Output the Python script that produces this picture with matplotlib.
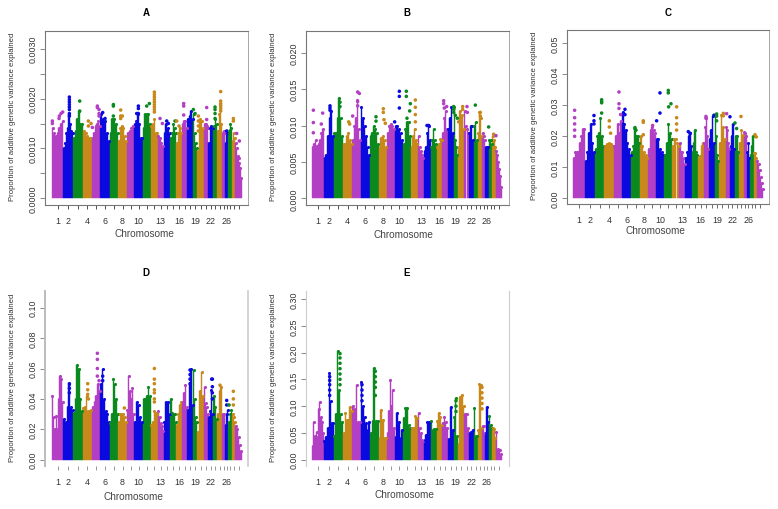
import matplotlib
matplotlib.use("Agg")
import matplotlib.pyplot as plt
import numpy as np

plt.rcParams['font.family'] = ['Liberation Sans', 'DejaVu Sans']

W, H = 778, 510

# chromosome lengths (same x axis for all panels)
chr_len = [35, 30, 28, 28, 25, 28, 26, 25, 23, 25, 24, 21, 18, 20, 18, 17, 16, 18, 12, 20,
           13, 15, 12, 14, 9, 10, 11, 10, 19]
chr_colors = ['#b23fc4', '#0a0ae0', '#0a8a1e', '#c8881a']
tick_names = {1: '1', 2: '2', 4: '4', 6: '6', 8: '8', 10: '10', 13: '13', 16: '16', 19: '19', 22: '22', 26: '26'}

# envelope of each chromosome, one list per chromosome (thousandths)
a_env = [[1.4, 1.3, 1.25, 1.3, 1.4, 1.5, 1.55], [1.0, 1.1, 1.3, 1.4, 1.7, 1.5, 1.35, 1.3], [1.2, 1.35, 1.6, 1.75, 1.5, 1.5],
         [1.35, 1.3, 1.25, 1.2, 1.2], [1.2, 1.3, 1.45, 1.5, 1.55, 1.45], [1.7, 1.6, 1.55, 1.3, 1.15], [1.3, 1.6, 1.6, 1.5, 1.3],
         [1.15, 1.4, 1.45, 1.4, 1.25, 1.15], [1.3, 1.35, 1.4, 1.45], [1.5, 1.55, 1.7, 1.5, 1.2, 1.2], [1.4, 1.7, 1.7, 1.7, 1.5],
         [1.45, 1.5, 1.6, 1.3, 1.3], [1.25, 1.2, 1.1, 1.05], [1.3, 1.5, 1.4, 1.3], [1.2, 1.3, 1.5, 1.4, 1.3], [1.1, 1.3, 1.4, 1.3],
         [1.5, 1.55, 1.55, 1.4], [1.6, 1.65, 1.75, 1.6], [1.7, 1.3, 1.1, 1.0], [0.95, 1.6, 1.55, 1.4], [1.5, 1.5, 1.45, 1.4],
         [1.1, 1.4, 1.45, 1.4], [1.45, 1.6, 1.5], [1.35, 1.7, 1.9, 1.5], [1.3, 1.35, 1.3], [1.1, 1.3, 1.3], [1.3, 1.5, 1.4],
         [1.15, 1.3, 1.2], [1.1, 1.0, 0.85, 0.8, 0.7, 0.6, 0.4]]
b_env = [[7.0, 7.5, 8.0, 7.2, 7.5, 8.0, 9.0, 9.5], [5.5, 6.0, 8.5, 11, 12, 8.5], [9, 9, 11, 13.8, 11, 8.5], [7.5, 7.5, 8.5, 9, 8, 7.5],
         [8.0, 10, 11, 13.5, 9.5, 8], [12.5, 11, 10, 8.5, 7, 6], [8.5, 9, 10, 9.5, 9, 7.5], [7, 8.3, 8.5, 8.0, 7], [9, 10, 10.2, 10, 9.5],
         [10, 10, 9.5, 9, 8], [7.5, 9.5, 10.5, 10.5, 8.5], [7, 8.5, 9.5, 8, 7.5], [8.5, 7, 6.5, 6, 5.5], [6.5, 7, 9, 10, 8],
         [7, 8, 9.5, 8, 7.5], [7, 7.5, 8.2, 8], [9, 11, 12, 9.5], [9.5, 11, 12.5, 9], [12.5, 8, 7, 6], [7, 12, 11.5, 9.5],
         [12, 10, 9.5, 9], [9, 10, 10, 8], [10, 10.5, 8], [9, 11.8, 11, 8.5], [9, 8.5, 8], [7, 7, 7], [8, 8, 7.5], [8.5, 8, 7],
         [6.5, 6, 5, 4, 3, 1.5]]
c_env = [[13, 15, 15, 15, 18, 20, 22.5, 22.5], [12, 15, 21, 24, 18, 15], [16, 20, 21, 26, 20, 17], [17, 17.5, 18, 17.5, 17],
         [17, 20, 24, 21, 25], [28, 24, 22, 18, 16, 14], [15, 17, 22, 20, 20, 18], [20, 17, 15, 14, 13], [16, 22, 23, 22, 21],
         [19, 19, 16, 15, 14], [14, 18, 24, 21, 19], [17, 19, 19, 18, 17], [18, 15, 15, 13, 11], [13, 15, 20, 21, 17],
         [15, 18, 22, 15, 14], [13, 13.5, 17, 18], [18, 23, 26, 20, 16], [19, 22, 26.5, 18], [27, 20, 14, 12], [18, 27, 23, 19],
         [23, 22, 18, 16], [17, 20, 24, 16], [20, 20, 15], [18, 22, 20.5], [21.5, 21, 20], [15, 18, 13], [14, 17, 20],
         [14.5, 14.5, 13], [12, 11, 9, 7, 5, 3]]
d_env = [[42, 28, 20, 29, 20, 40, 55, 53, 38], [27, 25, 35, 50, 35, 33], [31, 40, 62, 60, 40, 32], [34, 35, 42, 32, 32, 33],
         [35, 38, 42, 50, 45], [50, 60, 40, 32, 30, 25], [24, 30, 53, 50, 40, 30], [25, 30, 30, 30, 28, 25], [33, 55, 45, 40, 47, 30],
         [25, 38, 36, 28, 25], [40, 40, 42, 48, 42], [23, 25, 32, 31, 30], [32, 28, 24, 22, 19], [25, 38, 37, 38, 30],
         [40, 31, 30, 30, 25], [23, 30, 36, 38], [38, 44, 49, 35], [33, 50, 60, 36], [59, 40, 28, 25], [18, 45, 58, 42],
         [48, 37, 35, 30], [28, 32, 46, 30], [42, 35, 27], [30, 45, 48], [30, 30], [23, 30, 33], [25, 30, 33], [30, 28, 25],
         [22, 20, 15, 10, 6]]
e_env = [[25, 70, 45, 42, 52, 42, 95, 107, 80, 70, 50], [35, 43, 43, 60, 162, 110, 68, 68], [45, 85, 203, 130, 85, 70],
         [50, 87, 75, 75, 98, 90], [100, 95, 140, 70, 70], [145, 100, 80, 68, 55, 70], [50, 73, 172, 73, 73], [40, 93, 75, 40, 40],
         [50, 90, 148, 100, 130, 60], [42, 88, 70, 40, 55], [78, 96, 97, 65, 60], [60, 60, 82, 78], [87, 60, 50, 37, 35],
         [37, 47, 70, 70, 70], [72, 55, 58, 58], [72, 87, 80, 65], [68, 80, 70, 60], [38, 98, 55], [80, 115, 45], [30, 117, 120, 100],
         [85, 85, 60], [50, 52, 55], [97, 45, 45], [55, 142, 140, 60], [62, 62, 50], [50, 98, 70], [82, 65, 60], [60, 58, 40],
         [52, 20, 18, 10]]

# separate points above the envelope: x along the genome, y in thousandths
a_px = [2, 2, 22, 23, 28, 33, 53, 53, 53, 53, 53, 53, 53, 53, 84, 84, 110, 110, 118, 122, 137, 137, 142, 142, 142, 153, 160, 185, 185, 185,
        207, 207, 207, 212, 260, 260, 260, 255, 285, 293, 308, 308, 308, 308, 308, 308, 308, 308, 308, 325, 332, 345, 350, 370, 375, 382,
        396, 396, 396, 425, 430, 440, 440, 440, 440, 465, 465, 490, 490, 490, 490, 507, 507, 507, 507, 507, 507, 525, 535, 545, 545, 555, 563]
a_py = [1.55, 1.5, 1.6, 1.65, 1.7, 1.73, 2.03, 1.98, 1.93, 1.88, 1.83, 1.78, 1.7, 1.65, 1.95, 1.75, 1.55, 1.45, 1.5, 1.42, 1.85, 1.82, 1.78, 1.7, 1.65, 1.72, 1.6, 1.88, 1.85, 1.65,
        1.77, 1.65, 1.6, 1.65, 1.85, 1.8, 1.7, 1.7, 1.85, 1.9, 2.13, 2.08, 2.03, 1.98, 1.93, 1.88, 1.83, 1.78, 1.73, 1.6, 1.5, 1.55, 1.5, 1.55, 1.55, 1.45,
        1.9, 1.85, 1.67, 1.78, 1.7, 1.65, 1.55, 1.45, 1.35, 1.82, 1.58, 1.83, 1.78, 1.7, 1.6, 2.14, 1.95, 1.9, 1.85, 1.8, 1.75, 1.35, 1.35, 1.6, 1.55, 1.3, 1.15]
b_px = [4, 4, 4, 32, 28, 54, 54, 54, 84, 84, 110, 113, 122, 137, 142, 137, 137, 192, 192, 214, 214, 216, 220, 248, 262, 262, 262, 283, 283, 295, 293, 285,
        310, 310, 310, 310, 345, 350, 395, 395, 397, 404, 425, 425, 425, 430, 436, 440, 452, 452, 465, 466, 490, 505, 505, 530, 545, 552]
b_py = [12.1, 10.4, 9, 11.7, 10.2, 12.7, 12.4, 12.1, 13.2, 12.6, 10.5, 10.2, 11.3, 14.6, 14.4, 13.3, 12.7, 11.2, 10.6, 12.3, 11.8, 10.8, 10.3, 10.5, 14.7, 14, 12.4, 14.7, 14, 13, 12, 11,
        13.5, 12.5, 11.5, 10.5, 10, 10, 13.4, 13, 12.4, 12.6, 12.6, 12.2, 11.8, 11.4, 11, 10.5, 12.6, 12.2, 12.6, 11.8, 12.8, 11.8, 11.3, 9.8, 8.8, 8.6]
c_px = [4, 4, 4, 4, 4, 62, 62, 62, 85, 85, 85, 85, 108, 108, 112, 137, 137, 137, 142, 155, 155, 185, 185, 188, 210, 210, 210, 238, 250,
        260, 260, 285, 285, 293, 286, 310, 310, 310, 310, 345, 350, 398, 398, 422, 430, 430, 430, 450, 450, 460, 470, 485, 490, 503, 545, 549]
c_py = [28.4, 26, 24, 22, 20, 26.7, 25, 24, 31.8, 31.2, 30.8, 27.5, 25, 23, 21, 34.3, 30.5, 29, 27, 28.7, 27, 22.8, 22.4, 22, 25, 24.5, 20.5, 23.5, 25,
        34, 27.5, 34.8, 34, 30.5, 29.5, 29.5, 26, 24, 22, 21.5, 21, 26.4, 25.8, 26.8, 27.2, 26.5, 25, 27.4, 26.6, 27.3, 26.3, 24.3, 22.5, 26.4, 20.5, 19.8]
d_px = [53, 53, 53, 108, 108, 108, 110, 137, 137, 137, 137, 142, 153, 153, 218, 308, 308, 308, 308, 308, 308, 308, 415, 415, 415, 415, 482, 482, 482, 482,
        525, 525, 545, 545, 545, 532, 480, 505]
d_py = [50, 47, 44, 50, 46, 43, 40, 70, 66, 60, 55, 52, 55, 52, 34, 60, 53, 50, 46, 44, 40, 38, 59, 56, 53, 50, 53, 48, 44, 40,
        39, 36, 45, 40, 36, 36, 53, 49]
e_px = [53, 53, 53, 53, 53, 84, 84, 84, 84, 84, 84, 84, 190, 190, 190, 190, 190, 150, 150, 150, 150, 432, 432, 432, 510, 510, 510, 510, 510]
e_py = [155, 148, 140, 130, 120, 198, 190, 180, 170, 160, 150, 140, 165, 155, 145, 135, 120, 140, 130, 120, 110, 110, 100, 90, 135, 125, 115, 105, 95]

a_ticks = [0.0, 0.0005, 0.001, 0.0015, 0.002, 0.0025, 0.003]
a_labels = ['0.0000', '', '0.0010', '', '0.0020', '', '0.0030']
b_ticks = [0.0, 0.005, 0.01, 0.015, 0.02]
b_labels = ['0.000', '0.005', '0.010', '0.015', '0.020']
c_ticks = [0.0, 0.01, 0.02, 0.03, 0.04, 0.05]
c_labels = ['0.00', '0.01', '0.02', '0.03', '0.04', '0.05']
d_ticks = [0.0, 0.02, 0.04, 0.06, 0.08, 0.1]
d_labels = ['0.00', '0.02', '0.04', '0.06', '0.08', '0.10']
e_ticks = [0.0, 0.05, 0.1, 0.15, 0.2, 0.25, 0.3]
e_labels = ['0.00', '0.05', '0.10', '0.15', '0.20', '0.25', '0.30']

chr_len = np.array(chr_len, dtype=float)
starts = np.concatenate([[0], np.cumsum(chr_len)[:-1]])
mids = starts + chr_len / 2
total = chr_len.sum()


def panel(box, x0, x1, y0px, ytop_px, ytop_val, env, px, py, ticks, labels, title, title_xy, xlab_xy, spine_col, tick_col):
    left, right, top, bottom = box
    ax = fig.add_axes([left / W, 1 - bottom / H, (right - left) / W, (bottom - top) / H])
    scale = ytop_val / (y0px - ytop_px)
    ax.set_ylim((y0px - bottom) * scale, (y0px - top) * scale)
    ax.set_xlim((left - x0) * total / (x1 - x0), (right - x0) * total / (x1 - x0))

    for i, vals in enumerate(env):
        col = chr_colors[i % 4]
        w = chr_len[i] / len(vals)
        xs = starts[i] + w * (np.arange(len(vals)) + 0.5)
        ax.bar(xs, np.array(vals) * 0.001, width=w, color=col, edgecolor=col, linewidth=0.3)
        # round dots on the bar tops, the real plot is made of points
        ax.scatter(xs, np.array(vals) * 0.001, s=5, color=col, linewidths=0, zorder=2)

    # point colour comes from the chromosome the x falls in
    idx = np.searchsorted(starts, px, side='right') - 1
    ax.scatter(px, np.array(py) * 0.001, s=6.5, c=[chr_colors[j % 4] for j in idx], linewidths=0, zorder=3)

    ax.set_yticks(ticks)
    ax.set_yticklabels(labels, rotation=90, va='center', fontsize=6.4, color='#333333')
    ax.set_xticks(mids)
    ax.set_xticklabels([tick_names.get(i + 1, '') for i in range(29)], fontsize=6.4, color='#333333')
    ax.tick_params(axis='y', length=3.5, width=0.6, color='#777777', pad=2)
    ax.tick_params(axis='x', length=3, width=0.6, color=tick_col, pad=5)
    for s, c in spine_col.items():
        if c is None:
            ax.spines[s].set_visible(False)
        else:
            ax.spines[s].set_color(c[0])
            ax.spines[s].set_linewidth(c[1])
    fig.text(title_xy[0] / W, 1 - title_xy[1] / H, title, fontsize=7, fontweight='bold', ha='center', va='center')
    fig.text(xlab_xy[0] / W, 1 - xlab_xy[1] / H, 'Chromosome', fontsize=7.2, color='#444444', ha='center', va='center')
    fig.text((left - 32.5) / W, 1 - (bottom + top - 4) / 2 / H, 'Proportion of additive genetic variance explained',
             fontsize=5.6, color='#333333', rotation=90, ha='center', va='center')
    return ax


fig = plt.figure(figsize=(W / 100, H / 100), dpi=100)

box_style = {'left': ('#777777', 0.8), 'top': ('#777777', 0.8), 'right': ('#999999', 0.6), 'bottom': ('#777777', 0.8)}
panel((45, 248, 32, 206), 51.7, 241.7, 199.3, 49.7, 0.003, a_env, a_px, a_py, a_ticks, a_labels, 'A', (146, 13), (144, 234), box_style, '#333333')
panel((306, 509, 32, 206), 312, 502, 199.3, 53.7, 0.02, b_env, b_px, b_py, b_ticks, b_labels, 'B', (407, 13), (403, 235), box_style, '#333333')
panel((567, 769, 31, 205), 573.3, 763.3, 199.3, 44.3, 0.05, c_env, c_px, c_py, c_ticks, c_labels, 'C', (668, 13), (655, 231), box_style, '#555555')
open_d = {'left': ('#bbbbbb', 1.4), 'top': None, 'right': ('#cccccc', 1.2), 'bottom': None}
open_e = {'left': ('#cccccc', 0.8), 'top': None, 'right': ('#cccccc', 0.8), 'bottom': None}
panel((45, 248, 292, 467), 51.7, 241.7, 460.7, 308.7, 0.1, d_env, d_px, d_py, d_ticks, d_labels, 'D', (146, 273), (133, 497), open_d, '#888888')
panel((306, 509, 292, 467), 312, 502, 460.7, 300, 0.3, e_env, e_px, e_py, e_ticks, e_labels, 'E', (407, 273), (404, 495), open_e, '#888888')

fig.savefig('out.png', dpi=100)
